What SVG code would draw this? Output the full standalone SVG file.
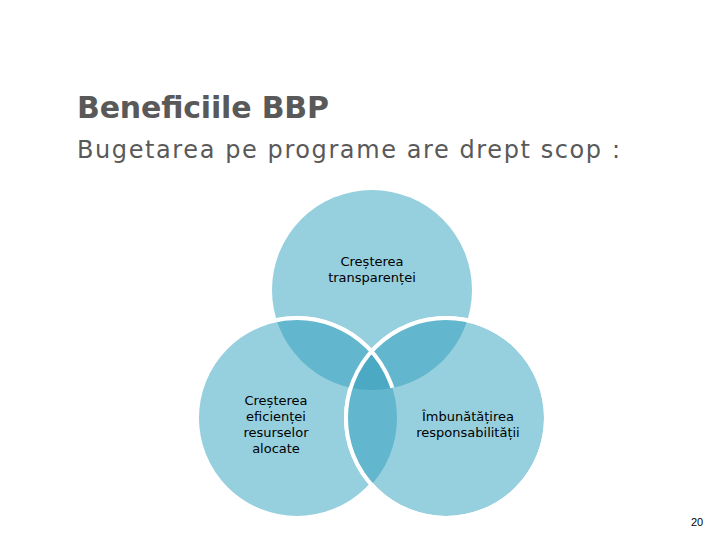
<svg xmlns="http://www.w3.org/2000/svg" width="720" height="540" viewBox="0 0 720 540">
<style>
.c{fill:#96CFDE}
.o{fill:none;stroke:#fff;stroke-width:4}
.t{font-family:"DejaVu Sans",sans-serif;fill:#595959}
.l{font-family:"DejaVu Sans",sans-serif;font-size:13px;fill:#000;text-anchor:middle}
</style>
<defs>
<clipPath id="cT"><circle cx="372" cy="290" r="100"/></clipPath>
<clipPath id="cL"><circle cx="297" cy="418" r="100"/></clipPath>
<clipPath id="cR"><circle cx="446" cy="418" r="100"/></clipPath>
</defs>
<rect width="720" height="540" fill="#fff"/>
<text class="t" x="77" y="118" font-size="30" font-weight="bold" textLength="252">Beneficiile BBP</text>
<text class="t" x="77" y="158" font-size="24" textLength="543">Bugetarea pe programe are drept scop :</text>
<g id="top"><circle class="c" cx="372" cy="290" r="100"/></g>
<g id="left"><circle class="c" cx="297" cy="418" r="100" stroke="#fff" stroke-width="4"/></g>
<g id="right"><circle class="c" cx="446" cy="418" r="100" stroke="#fff" stroke-width="4"/></g>
<g id="overlaps">
<g clip-path="url(#cT)"><circle cx="297" cy="418" r="100" fill="#62B6CD"/><circle cx="446" cy="418" r="100" fill="#62B6CD"/></g>
<g clip-path="url(#cL)"><circle cx="446" cy="418" r="100" fill="#62B6CD"/></g>
<g clip-path="url(#cL)"><g clip-path="url(#cR)"><circle cx="372" cy="290" r="100" fill="#4BA9C4"/></g></g>
<circle class="o" cx="297" cy="418" r="100" clip-path="url(#cT)"/>
<circle class="o" cx="446" cy="418" r="100"/>
</g>
<text class="l" x="372" y="266">Creșterea</text>
<text class="l" x="372" y="282">transparenței</text>
<text class="l" x="276" y="405">Creșterea</text>
<text class="l" x="276" y="421">eficienței</text>
<text class="l" x="276" y="437">resurselor</text>
<text class="l" x="276" y="453">alocate</text>
<text class="l" x="468" y="421">Îmbunătățirea</text>
<text class="l" x="468" y="437">responsabilității</text>
<text x="697" y="526" font-family="Liberation Sans,sans-serif" font-size="11" text-anchor="middle">20</text>
</svg>
